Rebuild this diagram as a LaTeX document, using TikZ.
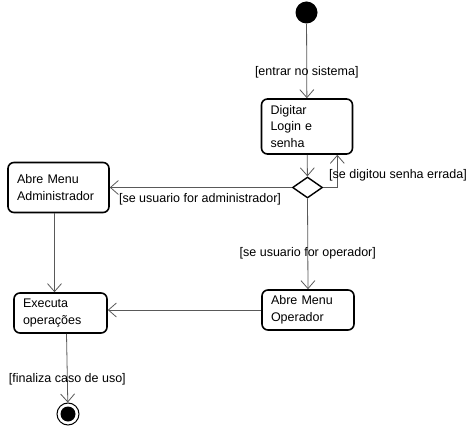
\documentclass[tikz,border=0pt]{standalone}
\usepackage{fontspec}
\setmainfont{Liberation Sans}
\usetikzlibrary{arrows.meta,shapes.geometric}
\begin{document}
\begin{tikzpicture}[
        x=1pt, y=-1pt, % coordenadas em pixels, y para baixo
        seta/.style = {draw=black!65, line width=0.8pt, -{Straight Barb[length=8pt, width=14pt]}},
        rotulo/.style={font=\fontsize{12.5}{15}\selectfont, inner sep=0pt},
        acao/.style={draw, line width=1.6pt, rounded corners=6pt, align=left, inner xsep=9pt,
                     font=\fontsize{12.5}{16.5}\selectfont}, % estados de acao
        decisao/.style={diamond, draw, line width=1.4pt, minimum width=30pt, minimum height=21pt, inner sep=0pt},
    ]
    \useasboundingbox (0,0) rectangle (473,435);

    \node[circle, fill=black, minimum size=22pt, inner sep=0pt] (ini) at (306.5,12.5) {};
    \node[acao, text width=73pt, minimum height=55pt] (dig) at (307,126.5) {Digitar\\Login e\\senha};
    \node[decisao] (dec) at (307.5,187.5) {};
    \node[acao, text width=83pt, minimum height=50pt] (adm) at (58.5,187.5) {Abre Menu\\Administrador};
    \node[acao, text width=74pt, minimum height=40pt] (ope) at (308,310) {Abre Menu\\Operador};
    \node[acao, text width=75pt, minimum height=40pt] (exe) at (60.5,313) {Executa\\operações};
    \node[circle, draw, line width=1pt, minimum size=22pt, inner sep=0pt] (fim) at (68,414) {};
    \node[circle, fill=black, minimum size=15pt, inner sep=0pt] (fimc) at (fim) {};

    \draw[seta] (ini) -- node[rotulo, pos=0.65] (r1) {[entrar no sistema]} (dig);
    \draw[seta] (dig) -- (dec);
    \draw[seta] (dec.east) -| ([xshift=-16pt]dig.south east);
    \node[rotulo] (r2) at (398,175) {[se digitou senha errada]};
    \draw[seta] (dec.west) -- (dec.west -| adm.east);
    \node[rotulo] (r3) at (200,199) {[se usuario for administrador]};
    \draw[seta] (dec.south) -- node[rotulo, pos=0.6] (r4) {[se usuario for operador]} (ope.north);
    \draw[seta] (ope.west) -- (ope.west -| exe.east);
    \draw[seta] ([xshift=-4pt]adm.south) -- ([xshift=-4pt]adm.south |- exe.north);
    \draw[seta] ([xshift=6pt]exe.south) -- node[rotulo, pos=0.66] (r5) {[finaliza caso de uso]} (fim);
\end{tikzpicture}
\end{document}
